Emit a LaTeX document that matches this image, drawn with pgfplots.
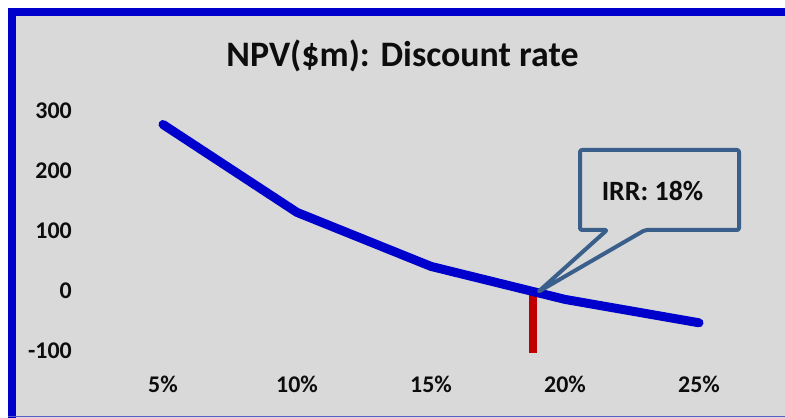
\documentclass[border=0pt]{standalone}
\usepackage{fontspec}
\setmainfont{Carlito}
\usepackage{pgfplots}
\pgfplotsset{compat=1.18}
\definecolor{bg}{HTML}{D9D9D9}
\definecolor{frameblue}{HTML}{0000CC}
\definecolor{lineblue}{HTML}{0000CC}
\definecolor{irrred}{HTML}{C00000}
\definecolor{callout}{HTML}{3A5F8B}
\definecolor{txt}{HTML}{0D0D0D}
\definecolor{thinblue}{HTML}{5A5AC8}
\begin{document}
\begin{tikzpicture}
\fill[white] (0,0) rectangle (785bp,418bp);
\useasboundingbox (0,0) rectangle (785bp,418bp);
\fill[bg] (16bp,0) rectangle (785bp,402bp);
\fill[frameblue] (8bp,402bp) rectangle (785bp,410bp);
\fill[frameblue] (8bp,0) rectangle (16bp,410bp);
\draw[thinblue, line width=1.2bp] (8bp,1.2bp) -- (785bp,1.2bp);
\node[anchor=base, font=\fontsize{36}{40}\selectfont\bfseries, text=txt, inner sep=0pt] at (402.5bp,351bp) {NPV(\$m): Discount rate};
\begin{axis}[
  at={(163bp,67bp)}, anchor=south west,
  scale only axis, width=536bp, height=240bp,
  xmin=5, xmax=25, ymin=-100, ymax=300,
  axis line style={draw=none},
  major tick length=0pt, tick style={draw=none},
  xtick={5,10,15,20,25},
  xticklabels={5\%,10\%,15\%,20\%,25\%},
  ytick={-100,0,100,200,300},
  yticklabels={-100,0,100,200,300},
  ticklabel style={font=\fontsize{24}{28}\selectfont\bfseries, text=txt, inner sep=0pt},
  xticklabel style={anchor=north, yshift=-25bp},
  yticklabel style={anchor=east, xshift=-91bp},
  clip=false,
]
\addplot[irrred, line width=7.5bp, line cap=butt] coordinates {(18.8,-5) (18.8,-103)};
\addplot[lineblue, line width=9bp, line cap=round, line join=round] coordinates {(5,277.5) (10,131) (15,41) (20,-14) (25,-53)};
\end{axis}
\draw[callout, line width=4bp, line join=round, rounded corners=2bp]
  (580bp,268bp) -- (739bp,268bp) -- (739bp,188bp) -- (645bp,188bp) -- (538bp,126bp) -- (607bp,188bp) -- (580bp,188bp) -- cycle;
\node[font=\fontsize{28}{32}\selectfont\bfseries, text=txt, inner sep=0pt] at (652.5bp,227bp) {IRR: 18\%};
\end{tikzpicture}
\end{document}
